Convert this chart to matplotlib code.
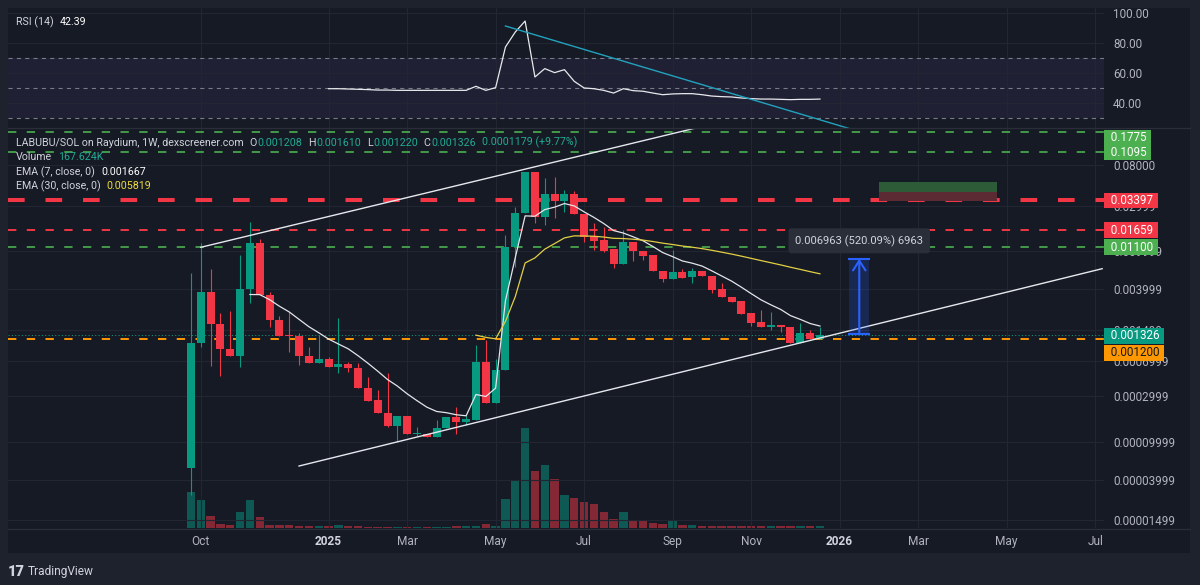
import matplotlib
matplotlib.use("Agg")
import matplotlib.pyplot as plt
import matplotlib.dates as mdates
import matplotlib.transforms as mtrans
from matplotlib.patches import Rectangle
from matplotlib.lines import Line2D
import numpy as np
import pandas as pd

plt.rcParams["font.family"] = ["Roboto", "DejaVu Sans"]
plt.rcParams["lines.scale_dashes"] = False

W, H = 1200, 585
BG = "#161a25"
OUTER = "#1e222d"
GRID = "#222632"
TXT = "#b2b5be"
LEG = "#d1d4dc"
UP = "#089981"
DOWN = "#f23645"
TEAL_TXT = "#22ab94"

# ---- weekly candles LABUBU/SOL ----
first_week = "2024-09-23"
opens = [5.29e-5, 0.00108, 0.00375, 0.00170, 0.000938, 0.000793, 0.00400, 0.01224, 0.00346, 0.00189,
         0.00132, 0.00128, 0.000793, 0.000669, 0.000737, 0.000607, 0.000653, 0.000593, 0.000366, 0.000274,
         0.000200, 0.000147, 0.000187, 0.000120, 0.000120, 0.000113, 0.000138, 0.000183, 0.000162, 0.000169,
         0.000690, 0.000253, 0.000565, 0.01095, 0.0249, 0.0680, 0.02261, 0.0394, 0.0338, 0.0394,
         0.0243, 0.01439, 0.01306, 0.01043, 0.00731, 0.01254, 0.01009, 0.00909, 0.00622, 0.00506,
         0.00607, 0.00530, 0.00622, 0.00551, 0.00397, 0.00332, 0.00299, 0.00222, 0.00179, 0.00161,
         0.00168, 0.00158, 0.00108, 0.00139, 0.001208]
highs = [0.00589, 0.01215, 0.00656, 0.00224, 0.00235, 0.00909, 0.0201, 0.01338, 0.00375, 0.00208,
         0.00229, 0.00138, 0.000985, 0.00132, 0.000774, 0.00198, 0.000685, 0.000669, 0.000477, 0.000349,
         0.000525, 0.000187, 0.000187, 0.000144, 0.000120, 0.000169, 0.000183, 0.000233, 0.000191, 0.00103,
         0.00117, 0.000737, 0.01474, 0.0292, 0.0680, 0.0680, 0.0584, 0.0603, 0.0437, 0.0432,
         0.0243, 0.0199, 0.01776, 0.01043, 0.01663, 0.01254, 0.01009, 0.00909, 0.00622, 0.01026,
         0.00643, 0.00659, 0.00622, 0.00551, 0.00459, 0.00332, 0.00299, 0.00222, 0.00241, 0.00231,
         0.00168, 0.00158, 0.00175, 0.00148, 0.001610]
lows = [2.76e-5, 0.000985, 0.000622, 0.000489, 0.000793, 0.000607, 0.00285, 0.00346, 0.00160, 0.00128,
        0.000873, 0.000637, 0.000669, 0.000669, 0.000607, 0.000530, 0.000538, 0.000366, 0.000267, 0.000200,
        0.000144, 0.0000999, 0.000120, 0.000115, 0.000112, 0.000112, 0.000138, 0.000120, 0.000150, 0.000169,
        0.000253, 0.000253, 0.000565, 0.00685, 0.0249, 0.0197, 0.01877, 0.02223, 0.0259, 0.02448,
        0.01254, 0.01026, 0.00985, 0.00659, 0.00731, 0.00787, 0.00806, 0.00622, 0.00477, 0.00506,
        0.00525, 0.00466, 0.00547, 0.00366, 0.00332, 0.00293, 0.00219, 0.00164, 0.00158, 0.00148,
        0.00142, 0.00108, 0.00108, 0.00119, 0.001208]
closes = [0.00108, 0.00375, 0.00170, 0.000938, 0.000793, 0.00400, 0.01224, 0.00346, 0.00189, 0.00128,
          0.00127, 0.000793, 0.000669, 0.000737, 0.000607, 0.000653, 0.000593, 0.000366, 0.000269, 0.000200,
          0.000147, 0.000187, 0.000120, 0.000124, 0.000113, 0.000139, 0.000183, 0.000162, 0.000173, 0.000690,
          0.000253, 0.000565, 0.01095, 0.02508, 0.0680, 0.02261, 0.0394, 0.0338, 0.0394, 0.02448,
          0.01394, 0.01285, 0.01009, 0.00731, 0.01254, 0.01009, 0.00895, 0.00622, 0.00506, 0.00607,
          0.00525, 0.00622, 0.00547, 0.00390, 0.00332, 0.00294, 0.00219, 0.00177, 0.00158, 0.00168,
          0.00158, 0.00108, 0.00137, 0.00119, 0.001326]
volumes_k = [3310, 2630, 1080, 400, 310, 1490, 2630, 1020, 310, 280,
             240, 210, 190, 210, 190, 310, 140, 140, 120, 120,
             120, 120, 120, 120, 110, 110, 120, 140, 140, 190,
             330, 190, 2720, 4400, 9300, 5330, 5820, 4580, 3030, 2790,
             2380, 2230, 1520, 840, 1520, 680, 680, 430, 330, 680,
             310, 310, 210, 200, 190, 180, 170, 170, 170, 230,
             150, 160, 190, 150, 167.624]

# RSI(14), starts at the 15th bar
rsi_first = 14
rsi_vals = [49.3, 49.3, 49.1, 48.9, 48.7, 48.4, 48.4, 48.2, 48.2, 48.2, 48.2, 48.2, 48.2, 48.2, 48.2,
            50.9, 48.2, 50.0, 77.1, 87.1, 94.4, 57.1, 62.7, 60.0, 62.0, 54.2, 49.8, 49.3, 48.2, 46.4,
            49.3, 48.0, 47.6, 46.4, 45.3, 45.8, 46.0, 46.0, 45.3, 44.4, 44.0, 43.8, 43.1, 42.7, 42.4,
            42.4, 42.2, 42.0, 42.2, 42.2, 42.39]

# horizontal levels drawn on the chart
level_prices = [0.1775, 0.1095, 0.03397, 0.01659, 0.01100, 0.001200]
level_labels = ["0.1775", "0.1095", "0.03397", "0.01659", "0.01100", "0.001200"]
level_styles = ["green", "green", "red_bold", "red", "green", "orange"]
last_price = 0.001326

price_ticks = [0.08, 0.02999, 0.009999, 0.003999, 0.001499, 0.0006999, 0.0002999, 0.00009999, 0.00003999, 0.00001499]
price_tick_labels = ["0.08000", "0.02999", "0.009999", "0.003999", "0.001499", "0.0006999",
                     "0.0002999", "0.00009999", "0.00003999", "0.00001499"]
rsi_ticks = [40, 60, 80, 100]

time_ticks = ["2024-09-30", "2024-12-30", "2025-02-24", "2025-04-28", "2025-06-30", "2025-09-01",
              "2025-10-27", "2025-12-29", "2026-02-23", "2026-04-27", "2026-06-29"]
time_labels = ["Oct", "2025", "Mar", "May", "Jul", "Sep", "Nov", "2026", "Mar", "May", "Jul"]

# drawings
upper_line = (("2024-09-30", 0.01095), ("2025-09-20", 0.1995))
lower_line = (("2024-12-09", 0.0000555), ("2026-07-04", 0.00653))
rsi_trend = (("2025-05-05", 91.1), ("2026-01-05", 22.7))
range_dates = ("2026-01-05", "2026-01-19")
range_lo, range_hi = 0.0013388, 0.0083018
range_text = "0.006963 (520.09%) 6963"
pos_dates = ("2026-01-26", "2026-04-20")
pos_prices = (0.0336, 0.0418, 0.0531)


def ema(vals, n):
    vals = np.asarray(vals, float)
    out = np.full(len(vals), np.nan)
    out[n - 1] = vals[:n].mean()
    a = 2.0 / (n + 1)
    for i in range(n, len(vals)):
        out[i] = a * vals[i] + (1 - a) * out[i - 1]
    return out


weeks = pd.date_range(first_week, periods=len(opens), freq="7D")
xs = mdates.date2num(weeks)
o, h, l, c = map(np.array, (opens, highs, lows, closes))
up = c >= o
col = np.where(up, UP, DOWN)

fig = plt.figure(figsize=(12, 5.85), dpi=100)
fig.patch.set_facecolor(OUTER)
fig.patches.append(Rectangle((8 / W, 1 - 553 / H), 1182 / W, 545 / H, transform=fig.transFigure,
                             facecolor=BG, edgecolor="none", zorder=-10))

x0 = mdates.date2num(pd.Timestamp(first_week))
xlim = (x0 - 130.3, x0 + 650.3)

ax_rsi = fig.add_axes([8 / W, 1 - 128 / H, 1096 / W, 120 / H])
ax_vol = fig.add_axes([8 / W, 1 - 528 / H, 1096 / W, 400 / H])
ax = fig.add_axes([8 / W, 1 - 528 / H, 1096 / W, 400 / H], sharex=ax_vol)
for a in (ax_rsi, ax_vol, ax):
    a.set_facecolor("none")
    for s in a.spines.values():
        s.set_visible(False)
    a.set_xlim(*xlim)

tick_nums = mdates.date2num(pd.to_datetime(time_ticks))

# ---- volume ----
ax_vol.bar(xs, volumes_k, width=6.0, color=col, alpha=0.5, linewidth=0)
ax_vol.set_ylim(0, max(volumes_k) * 4)
ax_vol.set_yticks([])
ax_vol.tick_params(axis="x", length=0, labelbottom=False)

# ---- main price pane ----
ax.set_yscale("log")
ax.set_ylim(1.241e-5, 0.1956)
ax.set_yticks(price_ticks)
ax.set_yticklabels(price_tick_labels)
ax.yaxis.set_minor_locator(matplotlib.ticker.NullLocator())
ax.yaxis.tick_right()
ax.tick_params(axis="y", length=0, pad=6.5, colors=TXT, labelsize=8.4)
ax.set_xticks(tick_nums)
ax.set_xticklabels(time_labels)
ax.tick_params(axis="x", length=0, pad=5, colors=TXT, labelsize=8.6)
for t, s in zip(ax.get_xticklabels(), time_labels):
    if s in ("2025", "2026"):
        t.set_fontweight("bold")
        t.set_color(LEG)
ax.grid(True, color=GRID, lw=0.8)

# candles
bot = np.minimum(o, c)
top = np.maximum(o, c)
top = np.maximum(top, bot * 1.025)
ax.vlines(xs, l, h, colors=col, lw=0.8, zorder=3)
ax.bar(xs, top - bot, bottom=bot, width=5.7, color=col, linewidth=0, zorder=4)

# EMAs
ax.plot(xs, ema(closes, 7), color="#e3e5ea", lw=0.9, zorder=5)
ax.plot(xs, ema(closes, 30), color="#e2cf45", lw=0.9, zorder=5)

# levels
styles = {
    "green": dict(color="#4caf50", lw=1.2, dashes=(6, 7.5)),
    "red_bold": dict(color=DOWN, lw=2.9, dashes=(12, 15)),
    "red": dict(color=DOWN, lw=1.4, dashes=(6, 7.5)),
    "orange": dict(color="#ff9800", lw=1.4, dashes=(6, 7.5)),
}
box_col = {"green": "#4caf50", "red_bold": DOWN, "red": DOWN, "orange": "#ff9800"}
for p, kind in zip(level_prices, level_styles):
    ax.axhline(p, zorder=2, **styles[kind])
ax.axhline(last_price, color=UP, lw=0.7, dashes=(0.8, 1.6), zorder=2)

# trend lines
for (d1, p1), (d2, p2) in (upper_line, lower_line):
    ax.plot(mdates.date2num(pd.to_datetime([d1, d2])), [p1, p2], color="#e6e8ee", lw=1.0, zorder=6)

# price range tool
r0, r1 = mdates.date2num(pd.to_datetime(range_dates))
rm = (r0 + r1) / 2
ax.add_patch(Rectangle((r0, range_lo), r1 - r0, range_hi - range_lo, facecolor="#2962ff",
                       alpha=0.2, edgecolor="none", zorder=6))
ax.plot([r0, r1], [range_lo, range_lo], color="#2962ff", lw=1.5, zorder=7)
ax.plot([r0, r1], [range_hi, range_hi], color="#2962ff", lw=1.5, zorder=7)
ax.annotate("", xy=(rm, range_hi), xytext=(rm, range_lo),
            arrowprops=dict(arrowstyle="->,head_length=0.7,head_width=0.45", color="#2962ff", lw=1.5,
                            shrinkA=0, shrinkB=0), zorder=7)
ax.annotate(range_text, xy=(rm, range_hi), xytext=(0, 18), textcoords="offset pixels",
            ha="center", va="center", fontsize=8.1, color=LEG, zorder=9,
            bbox=dict(boxstyle="round,pad=0.6,rounding_size=0.25", facecolor="#2a2e39", edgecolor="none"))

# position box
p0, p1 = mdates.date2num(pd.to_datetime(pos_dates))
ax.add_patch(Rectangle((p0, pos_prices[1]), p1 - p0, pos_prices[2] - pos_prices[1],
                       facecolor="#2e5b37", edgecolor="none", zorder=3))
ax.add_patch(Rectangle((p0, pos_prices[0]), p1 - p0, pos_prices[1] - pos_prices[0],
                       facecolor="#5b2a33", edgecolor="none", zorder=3))

# right-side value boxes
blend = mtrans.blended_transform_factory(ax.transAxes, ax.transData)
shift = {"0.1775": -5.8, "0.001200": -14}
for p, lab, kind in zip(level_prices, level_labels, level_styles):
    tc = "#131722" if kind == "orange" else "white"
    ax.annotate("  " + lab + " ", xy=(1.0, p), xycoords=blend, xytext=(1.4, shift.get(lab, 0)),
                textcoords="offset pixels", ha="left", va="center", fontsize=8.4, color=tc,
                annotation_clip=False, zorder=20,
                bbox=dict(boxstyle="square,pad=0.12", facecolor=box_col[kind], edgecolor="none"))
ax.annotate("  0.001326 ", xy=(1.0, last_price), xycoords=blend, xytext=(1.4, -1.3),
            textcoords="offset pixels", ha="left", va="center", fontsize=8.4, color="white",
            annotation_clip=False, zorder=21,
            bbox=dict(boxstyle="square,pad=0.12", facecolor=UP, edgecolor="none"))

# ---- RSI pane ----
ax_rsi.set_ylim(23.1, 103.1)
ax_rsi.set_yticks(rsi_ticks)
ax_rsi.set_yticklabels([f"{v:.2f}" for v in rsi_ticks])
ax_rsi.yaxis.tick_right()
ax_rsi.tick_params(axis="y", length=0, pad=6.5, colors=TXT, labelsize=8.4)
ax_rsi.set_xticks(tick_nums)
ax_rsi.tick_params(axis="x", length=0, labelbottom=False)
ax_rsi.grid(True, color=GRID, lw=0.8)
ax_rsi.axhspan(30, 70, color="#7e57c2", alpha=0.1, lw=0)
for v in (70, 50, 30):
    ax_rsi.axhline(v, color="#787b86", lw=0.8, dashes=(3, 3))
ax_rsi.plot(xs[rsi_first:], rsi_vals, color="#e8e9ec", lw=0.9, zorder=5)
(d1, v1), (d2, v2) = rsi_trend
ax_rsi.plot(mdates.date2num(pd.to_datetime([d1, d2])), [v1, v2], color="#22a3bd", lw=1.0, zorder=6)

# pane separators
fig.add_artist(Line2D([8 / W, 1190 / W], [1 - 128 / H] * 2, color="#2a2e39", lw=1))
fig.add_artist(Line2D([8 / W, 1190 / W], [1 - 528.5 / H] * 2, color="#2a2e39", lw=1))

# ---- legends ----
renderer = fig.canvas.get_renderer()


def run(x_px, y_px, parts, size=7.7):
    for s, colr, gap in parts:
        t = fig.text(x_px / W, 1 - y_px / H, s, color=colr, fontsize=size, ha="left", va="center")
        x_px += t.get_window_extent(renderer).width + gap


run(16, 22.3, [("RSI (14)", LEG, 6), ("42.39", "white", 0)])
run(16, 142.7, [("LABUBU/SOL on Raydium, 1W, dexscreener.com", LEG, 6),
                ("O", LEG, 0.5), ("0.001208", TEAL_TXT, 6),
                ("H", LEG, 0.5), ("0.001610", TEAL_TXT, 6),
                ("L", LEG, 0.5), ("0.001220", TEAL_TXT, 6),
                ("C", LEG, 0.5), ("0.001326", TEAL_TXT, 6),
                ("0.0001179 (+9.77%)", TEAL_TXT, 0)])
run(16, 157.3, [("Volume", LEG, 6), ("167.624K", TEAL_TXT, 0)])
run(16, 172, [("EMA (7, close, 0)", LEG, 6), ("0.001667", "white", 0)])
run(16, 186, [("EMA (30, close, 0)", LEG, 6), ("0.005819", "#f0dc3c", 0)])

# footer
fig.text(8 / W, 1 - 572 / H, "17", fontsize=10.5, fontweight="black", color=LEG, ha="left", va="center")
fig.text(28 / W, 1 - 572 / H, "TradingView", fontsize=8.6, color=LEG, ha="left", va="center")

fig.savefig("out.png", dpi=100, facecolor=fig.get_facecolor())
